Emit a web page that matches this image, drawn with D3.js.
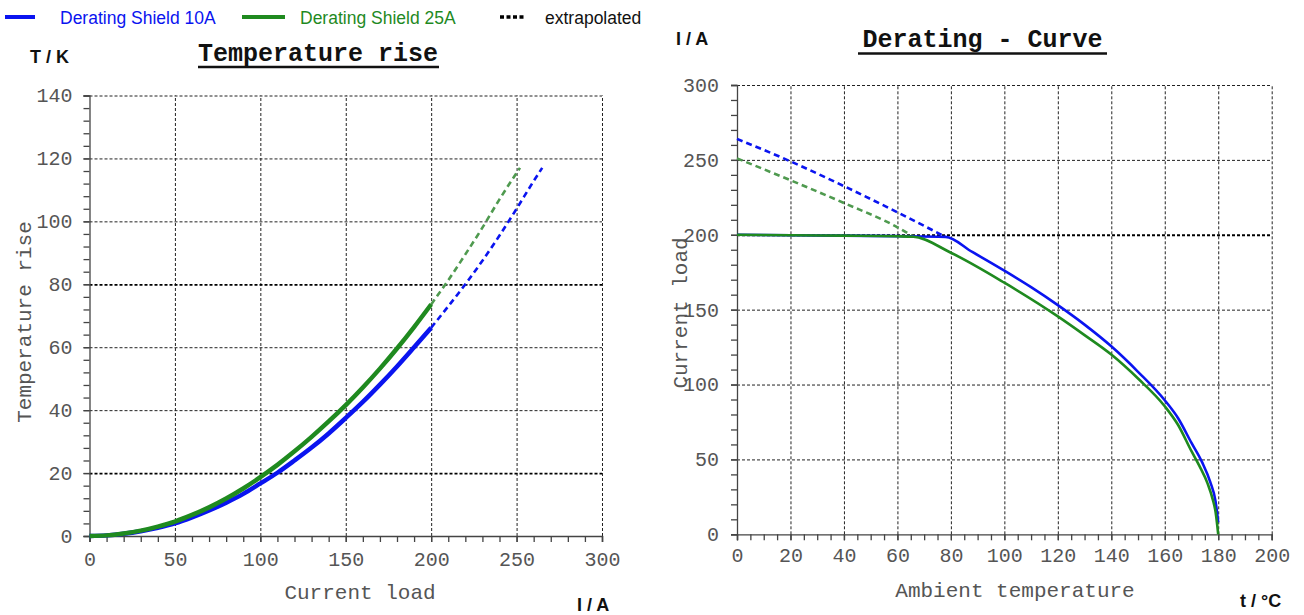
<!DOCTYPE html>
<html>
<head>
<meta charset="utf-8">
<script src="https://cdn.jsdelivr.net/npm/d3@7"></script>
<style>
  html, body { margin: 0; padding: 0; background: #fff; }
  svg { display: block; }
</style>
</head>
<body>
<svg id="chart" width="1304" height="615"></svg>
<script>
// ---------- DATA ----------
// Left chart: Temperature rise (T/K) vs current load (I/A)
const loadMeasured = [0, 10, 20, 30, 40, 50, 60, 70, 80, 90, 100, 110, 120, 130, 140, 150, 160, 170, 180, 190, 200];
const rise10A = [0, 0.2, 0.7, 1.5, 2.6, 4.0, 5.9, 8.1, 10.6, 13.4, 16.7, 20.1, 24.0, 28.1, 32.6, 37.5, 42.6, 48.1, 53.9, 60.0, 66.2];
const rise25A = [0, 0.2, 0.8, 1.7, 3.0, 4.6, 6.7, 9.1, 11.9, 15.1, 18.7, 22.6, 26.9, 31.5, 36.4, 41.6, 47.2, 53.2, 59.6, 66.4, 73.6];
const loadExtra10A = [200, 210, 220, 230, 240, 250, 260, 265];
const riseExtra10A = [66.2, 73, 80, 87.5, 95.5, 104, 112.8, 117];
const loadExtra25A = [200, 210, 220, 230, 240, 252];
const riseExtra25A = [73.6, 81.3, 89.5, 98, 107, 117];
const leftXTicks = [0, 50, 100, 150, 200, 250, 300];
const leftYTicks = [0, 20, 40, 60, 80, 100, 120, 140];

// Right chart: Derating curve, current load (I/A) vs ambient temperature (t/°C)
const ambient10A = [0, 20, 40, 60, 78, 88, 100, 110, 120, 130, 140, 150, 160, 165, 170, 174, 177, 179, 180];
const derate10A = [200, 199.7, 199.4, 199.1, 198.6, 188.5, 176, 165, 153, 140, 125.5, 108.5, 89.5, 77.5, 61, 48, 35, 22, 8];
const ambient25A = [0, 20, 40, 60, 66, 80, 100, 120, 130, 140, 150, 160, 165, 170, 173, 176, 178, 179, 180];
const derate25A = [200, 199.7, 199.4, 199.0, 198.7, 188, 168, 145.5, 133, 120, 104, 85.5, 73, 55.5, 45.5, 34, 23, 15, 0];
const ambientExtra10A = [0, 20, 40, 60, 78];
const derateExtra10A = [264, 249, 232.5, 215, 198.6];
const ambientExtra25A = [0, 20, 40, 60, 66];
const derateExtra25A = [251, 236.4, 221.2, 205, 198.7];
const rightXTicks = [0, 20, 40, 60, 80, 100, 120, 140, 160, 180, 200];
const rightYTicks = [0, 50, 100, 150, 200, 250, 300];

const legendItems = ["Derating Shield 10A", "Derating Shield 25A", "extrapolated"];

// ---------- STYLE ----------
const BLUE = "#0a14f0";
const GREEN = "#1f8a1f";
const GREEN_DASH = "#4f9a4f";
const MONO = "'Liberation Mono', 'DejaVu Sans Mono', monospace";
const SANS = "'Liberation Sans', Arial, sans-serif";

const svg = d3.select("#chart");
svg.append("rect").attr("width", 1304).attr("height", 615).attr("fill", "#fff");

function zip(xs, ys) { return xs.map((x, i) => [x, ys[i]]); }

function drawPanel(cfg) {
  const g = svg.append("g");
  const x = d3.scaleLinear().domain(cfg.xDomain).range(cfg.xRange);
  const y = d3.scaleLinear().domain(cfg.yDomain).range(cfg.yRange);
  const W = cfg.xRange[1] - cfg.xRange[0];
  const H = cfg.yRange[0] - cfg.yRange[1];

  // grid (vertical)
  g.append("g").attr("transform", `translate(0,${cfg.yRange[0]})`)
    .call(d3.axisBottom(x).tickValues(cfg.xTicks.filter(v => v !== cfg.xDomain[0])).tickSize(-H).tickFormat(""))
    .call(s => s.select(".domain").remove())
    .call(s => s.selectAll("line").attr("stroke", "#222").attr("stroke-width", 1).attr("stroke-dasharray", "3,2"));
  // grid (horizontal)
  g.append("g").attr("transform", `translate(${cfg.xRange[0]},0)`)
    .call(d3.axisLeft(y).tickValues(cfg.yTicks.filter(v => v !== cfg.yDomain[0])).tickSize(-W).tickFormat(""))
    .call(s => s.select(".domain").remove())
    .call(s => s.selectAll("line")
      .attr("stroke", d => cfg.emph.includes(d) ? "#000" : "#222")
      .attr("stroke-width", d => cfg.emph.includes(d) ? 1.8 : 1)
      .attr("stroke-dasharray", "3,2"));

  // minor ticks
  g.append("g").attr("transform", `translate(0,${cfg.yRange[0]})`)
    .call(d3.axisBottom(x).tickValues(d3.range(cfg.xDomain[0], cfg.xDomain[1] + 0.001, cfg.xMinor)).tickSize(6).tickFormat(""))
    .call(s => s.select(".domain").attr("stroke", "#444").attr("stroke-width", 1.3))
    .call(s => s.selectAll("line").attr("stroke", "#444").attr("stroke-width", 1.3));
  g.append("g").attr("transform", `translate(${cfg.xRange[0]},0)`)
    .call(d3.axisLeft(y).tickValues(d3.range(cfg.yDomain[0], cfg.yDomain[1] + 0.001, cfg.yMinor)).tickSize(6).tickFormat(""))
    .call(s => s.select(".domain").attr("stroke", "#444").attr("stroke-width", 1.3))
    .call(s => s.selectAll("line").attr("stroke", "#444").attr("stroke-width", 1.3));

  // major labels
  g.append("g").attr("transform", `translate(0,${cfg.yRange[0]})`)
    .call(d3.axisBottom(x).tickValues(cfg.xTicks).tickSize(6).tickPadding(cfg.xPad))
    .call(s => s.select(".domain").remove())
    .call(s => s.selectAll("line").attr("stroke", "#444").attr("stroke-width", 1.3))
    .call(s => s.selectAll("text").attr("font-family", MONO).attr("font-size", 20).attr("fill", "#555"));
  g.append("g").attr("transform", `translate(${cfg.xRange[0]},0)`)
    .call(d3.axisLeft(y).tickValues(cfg.yTicks).tickSize(6).tickPadding(cfg.yPad))
    .call(s => s.select(".domain").remove())
    .call(s => s.selectAll("line").attr("stroke", "#444").attr("stroke-width", 1.3))
    .call(s => s.selectAll("text").attr("font-family", MONO).attr("font-size", 20).attr("fill", "#555"));

  const line = d3.line().x(d => x(d[0])).y(d => y(d[1])).curve(d3.curveMonotoneX);
  cfg.series.forEach(sr => {
    g.append("path").datum(sr.data).attr("d", line)
      .attr("fill", "none").attr("stroke", sr.color).attr("stroke-width", sr.width)
      .attr("stroke-dasharray", sr.dash || null).attr("stroke-linecap", "butt").attr("stroke-linejoin", "round");
  });
  return { x, y };
}

// Left panel
drawPanel({
  xDomain: [0, 300], xRange: [89.5, 602],
  yDomain: [0, 140], yRange: [536, 95.5],
  xTicks: leftXTicks, yTicks: leftYTicks, xMinor: 10, yMinor: 4,
  xPad: 10, yPad: 11, emph: [20, 80],
  series: [
    { data: zip(loadExtra10A, riseExtra10A), color: BLUE, width: 2.6, dash: "6,4" },
    { data: zip(loadExtra25A, riseExtra25A), color: GREEN_DASH, width: 2.6, dash: "6,4" },
    { data: zip(loadMeasured, rise10A), color: BLUE, width: 4.5 },
    { data: zip(loadMeasured, rise25A), color: GREEN, width: 4.5 }
  ]
});

// Right panel
drawPanel({
  xDomain: [0, 200], xRange: [737, 1271.7],
  yDomain: [0, 300], yRange: [534.3, 85],
  xTicks: rightXTicks, yTicks: rightYTicks, xMinor: 5, yMinor: 10,
  xPad: 8, yPad: 12, emph: [200],
  series: [
    { data: zip(ambientExtra10A, derateExtra10A), color: BLUE, width: 2.6, dash: "6,4" },
    { data: zip(ambientExtra25A, derateExtra25A), color: GREEN_DASH, width: 2.6, dash: "6,4" },
    { data: zip(ambient10A, derate10A), color: BLUE, width: 2.6 },
    { data: zip(ambient25A, derate25A), color: GREEN, width: 2.6 }
  ]
});

// ---------- TEXT ----------
function title(txt, cx, base, x1, x2, uy) {
  svg.append("text").attr("x", cx).attr("y", base).attr("text-anchor", "middle")
    .attr("font-family", MONO).attr("font-weight", "bold").attr("font-size", 25).attr("fill", "#111").text(txt);
  svg.append("line").attr("x1", x1).attr("x2", x2).attr("y1", uy).attr("y2", uy)
    .attr("stroke", "#111").attr("stroke-width", 2.5);
}
title("Temperature rise", 318, 61, 198, 439, 67);
title("Derating - Curve", 982.5, 46.5, 858, 1107, 53.5);

function unit(txt, x, y) {
  svg.append("text").attr("x", x).attr("y", y).attr("font-family", SANS).attr("font-weight", "bold")
    .attr("font-size", 18).attr("fill", "#111").text(txt);
}
unit("T / K", 30, 63);
unit("I / A", 676, 45);
unit("I / A", 577, 611);
unit("t / °C", 1240, 607);

function axisTitle(txt, x, y, rot) {
  svg.append("text").attr("transform", `translate(${x},${y}) rotate(${rot})`)
    .attr("text-anchor", "middle").attr("font-family", MONO).attr("font-size", 21).attr("fill", "#555").text(txt);
}
axisTitle("Current load", 360, 599, 0);
axisTitle("Ambient temperature", 1015, 597, 0);
axisTitle("Temperature rise", 31, 322, -90);
axisTitle("Current load", 687, 313, -90);

// legend
const leg = svg.append("g");
const legX = [[5, 35, 60], [242, 285, 300], [500, 525, 545]];
const legColors = [BLUE, GREEN, "#000"];
legendItems.forEach((t, i) => {
  leg.append("line").attr("x1", legX[i][0]).attr("x2", legX[i][1]).attr("y1", 17).attr("y2", 17)
    .attr("stroke", legColors[i]).attr("stroke-width", i === 2 ? 3.5 : 4)
    .attr("stroke-dasharray", i === 2 ? "4,2.5" : null);
  leg.append("text").attr("x", legX[i][2]).attr("y", 23.5).attr("font-family", SANS).attr("font-size", 17.5)
    .attr("fill", i === 2 ? "#111" : legColors[i]).text(t);
});
</script>
</body>
</html>
